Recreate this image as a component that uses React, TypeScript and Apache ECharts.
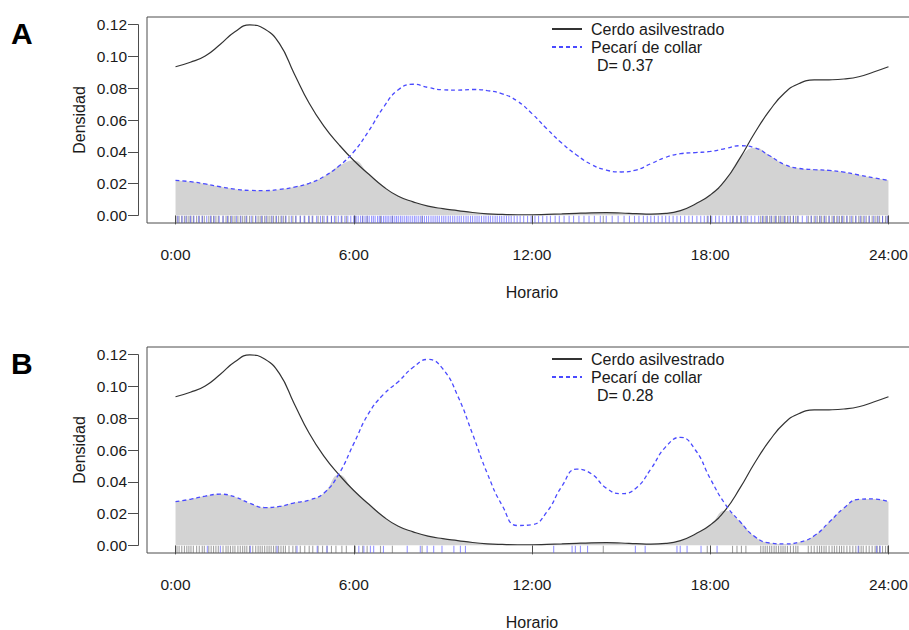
import React, { useEffect, useRef } from "react";
import * as echarts from "echarts";

// ---------- data ----------
const hours = [
  0, 0.5, 1, 1.5, 2, 2.5, 3, 3.5, 4, 4.5, 5, 5.5, 6, 6.5, 7, 7.5, 8, 8.5, 9, 9.5,
  10, 10.5, 11, 11.5, 12, 12.5, 13, 13.5, 14, 14.5, 15, 15.5, 16, 16.5, 17, 17.5,
  18, 18.5, 19, 19.5, 20, 20.5, 21, 21.5, 22, 22.5, 23, 23.5, 24,
];

// Cerdo asilvestrado (same curve in both panels)
const cerdo = [
  0.0935, 0.0963, 0.1003, 0.1075, 0.1155, 0.1198, 0.1172, 0.108, 0.089, 0.0705,
  0.056, 0.0445, 0.0345, 0.026, 0.018, 0.012, 0.0085, 0.0058, 0.0042, 0.003,
  0.0018, 0.001, 0.0006, 0.0004, 0.0004, 0.0006, 0.0009, 0.0013, 0.0016, 0.0017,
  0.0015, 0.0011, 0.0008, 0.0012, 0.003, 0.0072, 0.0128, 0.022, 0.036, 0.052,
  0.066, 0.077, 0.083, 0.0852, 0.0853, 0.0858, 0.0872, 0.0902, 0.0935,
];

// Pecarí de collar, panel A
const pecariA = [
  0.022, 0.0212, 0.0198, 0.018, 0.0165, 0.0157, 0.0156, 0.0163, 0.0178, 0.0202,
  0.0245, 0.031, 0.04, 0.053, 0.068, 0.079, 0.0825, 0.0805, 0.079, 0.0788,
  0.0792, 0.0785, 0.0765, 0.072, 0.064, 0.0545, 0.0455, 0.038, 0.032, 0.0285,
  0.0273, 0.0285, 0.0325, 0.0365, 0.0388, 0.0395, 0.0402, 0.042, 0.0438, 0.0425,
  0.0375, 0.032, 0.0295, 0.0288, 0.0283, 0.0272, 0.0254, 0.0236, 0.022,
];

// Pecarí de collar, panel B
const pecariB = [
  0.0275, 0.029, 0.031, 0.0322, 0.0305, 0.0265, 0.0238, 0.0245, 0.0268, 0.0285,
  0.033, 0.045, 0.064, 0.083, 0.095, 0.103, 0.112, 0.117, 0.111, 0.094,
  0.07, 0.045, 0.025, 0.0125, 0.013, 0.021, 0.037, 0.048, 0.045, 0.036,
  0.0325, 0.036, 0.048, 0.062, 0.068, 0.06, 0.042, 0.026, 0.015, 0.0055,
  0.0015, 0.0009, 0.002, 0.006, 0.0145, 0.0235, 0.029, 0.0292, 0.0275,
];

// rug: observation times (hours)
const cerdoRug = [
  0.05, 0.12, 0.21, 0.3, 0.38, 0.45, 0.52, 0.6, 0.71, 0.8, 0.9, 0.97, 1.12, 1.2,
  1.28, 1.36, 1.44, 1.6, 1.7, 1.77, 1.85, 1.93, 2.0, 2.1, 2.18, 2.26, 2.33, 2.4,
  2.49, 2.6, 2.7, 2.78, 2.85, 2.92, 3.0, 3.08, 3.15, 3.22, 3.3, 3.38, 3.47, 3.55,
  3.63, 3.7, 3.82, 3.95, 4.05, 4.2, 4.35, 4.5, 4.62, 4.8, 4.95, 5.1, 5.25, 5.4,
  5.6, 5.75, 6.05, 6.3, 6.45, 6.9, 7.3, 8.3, 14.4, 17.9, 18.75, 18.9, 19.05, 19.2,
  19.7, 19.78, 19.85, 19.92, 20.0, 20.07, 20.15, 20.22, 20.3, 20.38, 20.45, 20.52,
  20.6, 20.7, 20.8, 20.88, 20.95, 21.3, 21.4, 21.5, 21.6, 21.68, 21.75, 21.83,
  21.9, 22.0, 22.1, 22.18, 22.26, 22.35, 22.42, 22.5, 22.6, 22.7, 22.8, 22.9,
  23.0, 23.08, 23.15, 23.25, 23.35, 23.45, 23.55, 23.62, 23.7, 23.8, 23.9, 23.97,
];

const pecariRugA = [
  0.08, 0.22, 0.35, 0.5, 0.62, 0.78, 0.9, 1.05, 1.18, 1.3, 1.47, 1.6, 1.75, 1.88,
  2.05, 2.2, 2.38, 2.55, 2.7, 2.9, 3.05, 3.25, 3.4, 3.58, 3.72, 3.9, 4.05, 4.2,
  4.33, 4.48, 4.6, 4.75, 4.88, 5.0, 5.12, 5.25, 5.35, 5.48, 5.58, 5.7, 5.8, 5.9,
  6.0, 6.08, 6.15, 6.23, 6.3, 6.38, 6.45, 6.52, 6.6, 6.66, 6.72, 6.8, 6.86, 6.93,
  7.0, 7.06, 7.12, 7.18, 7.25, 7.31, 7.38, 7.44, 7.5, 7.57, 7.63, 7.7, 7.77, 7.83,
  7.9, 7.97, 8.04, 8.1, 8.17, 8.24, 8.31, 8.38, 8.45, 8.52, 8.6, 8.67, 8.74, 8.81,
  8.88, 8.96, 9.03, 9.1, 9.18, 9.25, 9.33, 9.4, 9.48, 9.55, 9.62, 9.7, 9.78, 9.85,
  9.93, 10.0, 10.08, 10.15, 10.22, 10.3, 10.38, 10.45, 10.53, 10.6, 10.68, 10.76,
  10.83, 10.91, 10.98, 11.06, 11.14, 11.22, 11.3, 11.4, 11.5, 11.6, 11.72, 11.85,
  11.97, 12.1, 12.22, 12.36, 12.5, 12.62, 12.78, 12.92, 13.08, 13.25, 13.4, 13.58,
  13.75, 13.92, 14.1, 14.3, 14.5, 14.7, 14.9, 15.1, 15.28, 15.45, 15.6, 15.75,
  15.88, 16.0, 16.12, 16.25, 16.38, 16.5, 16.62, 16.75, 16.88, 17.0, 17.14, 17.28,
  17.4, 17.55, 17.68, 17.8, 17.93, 18.05, 18.18, 18.3, 18.42, 18.55, 18.67, 18.78,
  18.9, 19.02, 19.14, 19.26, 19.38, 19.5, 19.63, 19.76, 19.9, 20.05, 20.2, 20.35,
  20.5, 20.65, 20.8, 20.95, 21.1, 21.25, 21.4, 21.55, 21.7, 21.85, 22.0, 22.15,
  22.3, 22.45, 22.6, 22.75, 22.9, 23.05, 23.2, 23.35, 23.5, 23.65, 23.8, 23.95,
];

const pecariRugB = [
  1.07, 1.51, 2.52, 3.42, 4.09, 4.77, 5.1, 6.17, 6.34, 6.56, 6.67, 7.0, 7.8, 8.24,
  8.47, 8.69, 8.97, 9.37, 9.59, 9.76, 12.73, 13.35, 13.46, 13.63, 13.87, 15.48,
  15.81, 16.88, 16.99, 17.22, 17.69, 18.23, 22.98, 23.6, 23.72,
];

const tickHours = [0, 6, 12, 18, 24];
const panelLetters = ["A", "B"];
const overlapLabels = ["D= 0.37", "D= 0.28"];
const speciesNames = ["Cerdo asilvestrado", "Pecarí de collar"];
const xAxisTitle = "Horario";
const yAxisTitle = "Densidad";

// ---------- layout ----------
const FONT = "'Liberation Sans', Arial, Helvetica, sans-serif";
const GRID_LEFT = 147;
const GRID_W = 770;
const GRID_H = 206;
const PANEL_TOPS = [17, 347];
const X_MIN = -0.96;
const X_MAX = 24.96;
const Y_MIN = -0.0048;
const Y_MAX = 0.1248;
const Y_TOP_TICK = 0.12;
const RUG_Y = -0.0025;
const SMOOTH = 0.5;
const TXT = "#1a1a1a";
const AX = "#4d4d4d";

function buildOption() {
  const pecs = [pecariA, pecariB];
  const pecRugs = [pecariRugA, pecariRugB];
  const grid: any[] = [];
  const xAxis: any[] = [];
  const yAxis: any[] = [];
  const series: any[] = [];
  const legend: any[] = [];
  const graphic: any[] = [];

  PANEL_TOPS.forEach((top, i) => {
    grid.push({
      left: GRID_LEFT,
      top,
      width: GRID_W,
      height: GRID_H,
      show: true,
      borderColor: AX,
      borderWidth: 1,
      backgroundColor: "transparent",
      outerBoundsMode: "none",
      containLabel: false,
    });
    xAxis.push({
      gridIndex: i,
      type: "value",
      min: X_MIN,
      max: X_MAX,
      axisLine: { show: false },
      axisTick: { show: true, customValues: tickHours, length: 9, lineStyle: { color: AX } },
      axisLabel: {
        customValues: tickHours,
        formatter: (v: number) => `${v}:00`,
        fontSize: 15.5,
        color: TXT,
        margin: 23,
        fontFamily: FONT,
      },
      splitLine: { show: false },
      name: xAxisTitle,
      nameLocation: "middle",
      nameGap: 61,
      nameTextStyle: { fontSize: 16, lineHeight: 16, color: TXT, fontFamily: FONT },
    });
    yAxis.push({ gridIndex: i, type: "value", min: Y_MIN, max: Y_MAX, show: false });
  });

  // y axes drawn on companion grids that span exactly 0 .. 0.12
  PANEL_TOPS.forEach((top, i) => {
    const span = Y_MAX - Y_MIN;
    grid.push({
      left: 138,
      top: top + (GRID_H * (Y_MAX - Y_TOP_TICK)) / span,
      width: 10,
      height: (GRID_H * (Y_TOP_TICK - 0)) / span,
      show: false,
      outerBoundsMode: "none",
      containLabel: false,
    });
    xAxis.push({ gridIndex: 2 + i, type: "value", min: 0, max: 1, show: false });
    yAxis.push({
      gridIndex: 2 + i,
      type: "value",
      min: 0,
      max: Y_TOP_TICK,
      interval: 0.02,
      axisLine: { show: true, lineStyle: { color: AX } },
      axisTick: { show: true, length: 10, lineStyle: { color: AX } },
      axisLabel: {
        formatter: (v: number) => v.toFixed(2),
        fontSize: 15.5,
        color: TXT,
        margin: 11,
        fontFamily: FONT,
      },
      splitLine: { show: false },
      name: yAxisTitle,
      nameLocation: "middle",
      nameGap: 51,
      nameTextStyle: { fontSize: 16, color: TXT, fontFamily: FONT },
    });
  });

  PANEL_TOPS.forEach((top, i) => {
    const pec = pecs[i];
    series.push({
      name: "Solapamiento",
      type: "line",
      xAxisIndex: i,
      yAxisIndex: i,
      data: hours.map((h, k) => [h, Math.min(cerdo[k], pec[k])]),
      smooth: SMOOTH,
      symbol: "none",
      lineStyle: { width: 0 },
      areaStyle: { color: "#d3d3d3", opacity: 1 },
      silent: true,
      z: 1,
    });
    series.push({
      name: speciesNames[0],
      type: "line",
      xAxisIndex: i,
      yAxisIndex: i,
      data: hours.map((h, k) => [h, cerdo[k]]),
      smooth: SMOOTH,
      symbol: "none",
      color: "#333333",
      lineStyle: { color: "#333333", width: 1.2 },
      z: 3,
    });
    series.push({
      name: speciesNames[1],
      type: "line",
      xAxisIndex: i,
      yAxisIndex: i,
      data: hours.map((h, k) => [h, pec[k]]),
      smooth: SMOOTH,
      symbol: "none",
      color: "#4a4aff",
      lineStyle: { color: "#4a4aff", width: 1.3, type: [4, 3] },
      z: 3,
    });
    series.push({
      name: "rug-cerdo",
      type: "scatter",
      xAxisIndex: i,
      yAxisIndex: i,
      data: cerdoRug.map((t) => [t, RUG_Y]),
      symbol: "rect",
      symbolSize: [1.1, 7],
      itemStyle: { color: "rgba(60,60,60,0.6)" },
      silent: true,
      z: 2,
    });
    series.push({
      name: "rug-pecari",
      type: "scatter",
      xAxisIndex: i,
      yAxisIndex: i,
      data: pecRugs[i].map((t) => [t, RUG_Y]),
      symbol: "rect",
      symbolSize: [1.1, 7],
      itemStyle: { color: "rgba(80,80,255,0.75)" },
      silent: true,
      z: 2,
    });

    legend.push({
      left: 546,
      top: top - 1,
      orient: "vertical",
      itemWidth: 30,
      itemHeight: 14,
      itemGap: 2,
      selectedMode: false,
      data: speciesNames,
      itemStyle: { opacity: 0 },
      textStyle: { fontSize: 16, color: TXT, fontFamily: FONT, padding: [0, 0, 0, 4] },
    });

    graphic.push({
      type: "text",
      left: 597,
      top: top + 40,
      style: { text: overlapLabels[i], fontSize: 16, fill: TXT, fontFamily: FONT },
    });
    graphic.push({
      type: "text",
      left: 11,
      top: top + 1,
      style: {
        text: panelLetters[i],
        fontSize: 30,
        fontWeight: "bold",
        fill: "#000",
        fontFamily: FONT,
      },
    });
  });

  return {
    animation: false,
    backgroundColor: "#ffffff",
    textStyle: { fontFamily: FONT },
    grid,
    xAxis,
    yAxis,
    series,
    legend,
    graphic,
  };
}

export default function App() {
  const ref = useRef<HTMLDivElement | null>(null);
  useEffect(() => {
    if (!ref.current) return;
    const chart = echarts.init(ref.current, null, { renderer: "svg" });
    chart.setOption(buildOption() as any);
    return () => chart.dispose();
  }, []);
  return (
    <div
      ref={ref}
      style={{ position: "fixed", left: 0, top: 0, width: 909, height: 630, background: "#fff" }}
    />
  );
}
